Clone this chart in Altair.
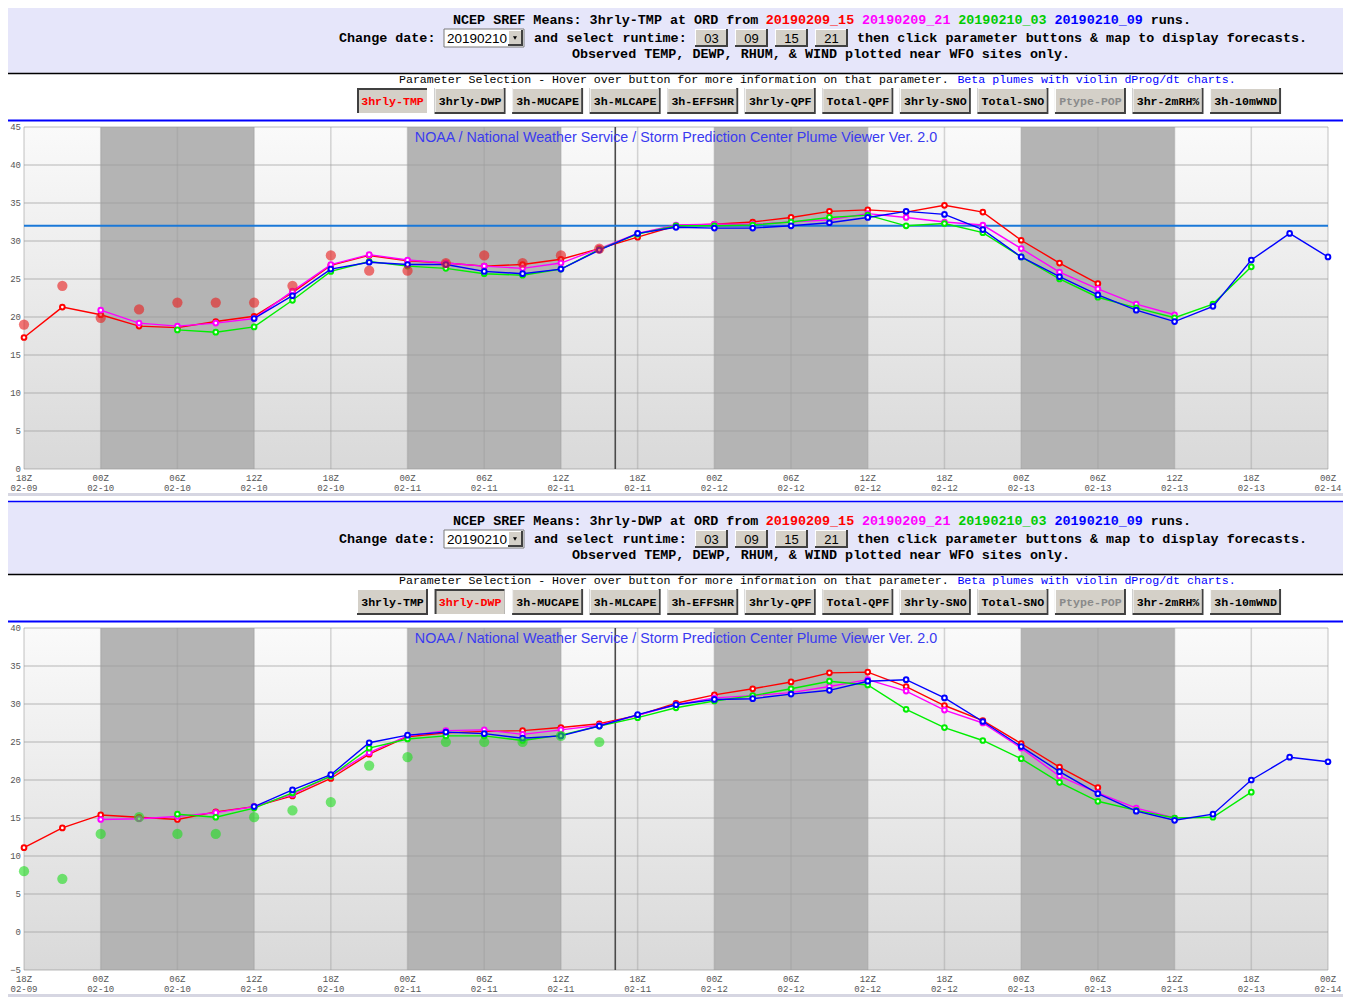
import altair as alt
import pandas as pd

# ------------------------------------------------------------------ data
RUNS = ["20190209_15", "20190209_21", "20190210_03", "20190210_09"]
RUN_COLORS = ["#ff0000", "#ff00ff", "#00ee00", "#0000ff"]
RUN_TEXT_COLORS = ["#ff0000", "#ff00ff", "#00cc00", "#0000ff"]
RUN_FIRST_HOUR = [0, 6, 12, 18]          # hours after 18Z 02-09
STEP_H = 3

TMP_RED = [17.3, 21.3, 20.3, 18.8, 18.6, 19.4, 20.1, 23.2, 26.8, 28.1, 27.4, 27.1, 26.7, 26.9, 27.6,
           29.0, 30.5, 32.0, 32.2, 32.5, 33.1, 33.9, 34.1, 33.8, 34.7, 33.8, 30.1, 27.1, 24.4]
TMP_MAG = [20.9, 19.2, 18.8, 19.2, 19.8, 23.4, 26.9, 28.2, 27.5, 27.1, 26.7, 26.4, 27.1, 29.0, 31.0,
           32.1, 32.2, 32.2, 32.5, 32.8, 33.6, 33.1, 32.5, 32.1, 29.0, 25.9, 23.7, 21.7, 20.3]
TMP_GRN = [18.3, 18.0, 18.7, 22.2, 26.0, 27.3, 26.7, 26.4, 25.7, 25.5, 26.3, 28.9, 30.9, 32.0, 32.0,
           32.1, 32.5, 33.1, 33.4, 32.0, 32.3, 31.1, 27.9, 25.0, 22.6, 21.2, 19.9, 21.7, 26.6]
TMP_BLU = [19.8, 22.8, 26.3, 27.2, 26.9, 26.9, 26.0, 25.7, 26.3, 28.8, 31.0, 31.8, 31.7, 31.7, 32.0,
           32.4, 33.1, 33.9, 33.5, 31.5, 27.9, 25.3, 22.9, 20.9, 19.4, 21.4, 27.5, 31.0, 27.9]
TMP_OBS = [19.0, 24.1, 19.9, 21.0, 21.9, 21.9, 21.9, 24.1, 28.1, 26.1, 26.1, 27.1, 28.1, 27.1, 28.1, 29.0]

DWP_RED = [11.1, 13.7, 15.4, 15.1, 14.8, 15.8, 16.5, 17.9, 20.2, 23.4, 25.7, 26.2, 26.4, 26.5, 26.9,
           27.4, 28.5, 30.1, 31.2, 32.0, 32.9, 34.1, 34.2, 32.3, 29.8, 27.8, 24.8, 21.7, 19.0]
DWP_MAG = [14.8, 14.9, 15.2, 15.7, 16.5, 18.1, 20.5, 23.6, 25.8, 26.5, 26.6, 26.0, 26.6, 27.2, 28.5,
           29.9, 30.8, 31.1, 31.5, 32.3, 33.2, 31.7, 29.2, 27.5, 24.2, 20.5, 18.3, 16.3, 15.0]
DWP_GRN = [15.5, 15.1, 16.3, 18.3, 20.5, 24.2, 25.4, 25.8, 25.8, 25.2, 25.9, 27.1, 28.2, 29.5, 30.4,
           31.1, 32.0, 33.0, 32.5, 29.3, 26.9, 25.2, 22.8, 19.7, 17.2, 16.0, 15.0, 15.1, 18.4]
DWP_BLU = [16.5, 18.7, 20.7, 24.9, 25.9, 26.3, 26.1, 25.5, 25.8, 27.1, 28.6, 29.9, 30.6, 30.7, 31.3,
           31.8, 33.0, 33.2, 30.8, 27.7, 24.4, 21.1, 18.2, 15.9, 14.7, 15.5, 20.0, 23.0, 22.4]
DWP_OBS = [8.0, 7.0, 12.9, 15.1, 12.9, 12.9, 15.1, 16.0, 17.1, 21.9, 23.0, 25.0, 25.0, 25.0, 25.8, 25.0]

TICK_HOURS = [0, 6, 12, 18, 24, 30, 36, 42, 48, 54, 60, 66, 72, 78, 84, 90, 96, 102]
TICK_TIME = ["18Z", "00Z", "06Z", "12Z", "18Z", "00Z", "06Z", "12Z", "18Z",
             "00Z", "06Z", "12Z", "18Z", "00Z", "06Z", "12Z", "18Z", "00Z"]
TICK_DATE = ["02-09", "02-10", "02-10", "02-10", "02-10", "02-11", "02-11", "02-11", "02-11",
             "02-12", "02-12", "02-12", "02-12", "02-13", "02-13", "02-13", "02-13", "02-14"]
NIGHT_START = [6, 30, 54, 78]
NIGHT_END = [18, 42, 66, 90]
NOW_HOUR = 46.25
FREEZING = [32]
TMP_YTICKS = [0, 5, 10, 15, 20, 25, 30, 35, 40, 45]
DWP_YTICKS = [-5, 0, 5, 10, 15, 20, 25, 30, 35, 40]

BUTTONS = ["3hrly-TMP", "3hrly-DWP", "3h-MUCAPE", "3h-MLCAPE", "3h-EFFSHR", "3hrly-QPF",
           "Total-QPF", "3hrly-SNO", "Total-SNO", "Ptype-POP", "3hr-2mRH%", "3h-10mWND"]
RUNTIMES = ["03", "09", "15", "21"]
SITE = "ORD"
DATE_SEL = "20190210"
TITLE = "NOAA / National Weather Service / Storm Prediction Center Plume Viewer Ver. 2.0"

# ------------------------------------------------------------------ helpers
OFF = 8            # page margin: page px -> chart px
W, H = 1335, 993
MONO = "Liberation Mono"
SANS = "Liberation Sans"
ONE = pd.DataFrame({"k": [0]})


def V(v):
    return alt.value(v - OFF)


def rect(x1, y1, x2, y2, **kw):
    return alt.Chart(ONE).mark_rect(**kw).encode(x=V(x1), x2=V(x2), y=V(y1), y2=V(y2))


def hrule(x1, x2, y, **kw):
    return alt.Chart(ONE).mark_rule(**kw).encode(x=V(x1), x2=V(x2), y=V(y))


def vrule(x, y1, y2, **kw):
    return alt.Chart(ONE).mark_rule(**kw).encode(x=V(x), y=V(y1), y2=V(y2))


def txt(x, y, s, **kw):
    kw.setdefault("baseline", "middle")
    kw.setdefault("align", "left")
    return alt.Chart(ONE).mark_text(text=s, **kw).encode(x=V(x), y=V(y))


def button(x0, y0, w, h, label, color, selected, font, size, weight):
    dark, light, face = "#404040", "#ffffff", "#d4d0c8"
    out = []
    if not selected:
        out.append(rect(x0, y0, x0 + w, y0 + h, color=dark))
        out.append(rect(x0, y0, x0 + w - 2, y0 + h - 2, color=light))
        out.append(rect(x0 + 1, y0 + 1, x0 + w - 2, y0 + h - 2, color=face))
    else:
        out.append(rect(x0, y0, x0 + w, y0 + h, color=light))
        out.append(rect(x0, y0, x0 + w - 1, y0 + h - 1, color=dark))
        out.append(rect(x0 + 2, y0 + 2, x0 + w - 1, y0 + h - 1, color=face))
    out.append(txt(x0 + w / 2, y0 + h / 2 + 0.5, label, align="center", font=font,
                   fontSize=size, fontWeight=weight, color=color))
    return out


def header(b, param):
    L = []
    L.append(rect(0, b + 1, 1351, b + 73, color="#e6e6fa"))
    L.append(hrule(0, 1351, b + 0.5, color="#0000ff", strokeWidth=1.5))
    L.append(hrule(0, 1351, b + 73.5, color="#000000", strokeWidth=1.5))
    # line 1
    cw = 8.02
    x = 453
    segs = [("NCEP SREF Means: %s at %s from " % (param, SITE), "#000000")]
    for r, c in zip(RUNS, RUN_TEXT_COLORS):
        segs.append((r, c))
        segs.append((" ", "#000000"))
    segs.append(("runs.", "#000000"))
    for s, c in segs:
        if s.strip():
            L.append(txt(x, b + 20, s, font=MONO, fontSize=13.4, fontWeight="bold", color=c))
        x += cw * len(s)
    # line 2
    L.append(txt(339, b + 38, "Change date:", font=MONO, fontSize=13.4, fontWeight="bold"))
    L.append(rect(444, b + 29, 524, b + 47, color="#ffffff", stroke="#7a7a7a", strokeWidth=1))
    L.append(txt(447, b + 38.5, DATE_SEL, font=SANS, fontSize=13.5, color="#000000"))
    L += button(508, b + 30, 15, 16, "", "#000", False, SANS, 10, "normal")
    L.append(alt.Chart(ONE).mark_point(shape="triangle-down", filled=True, color="#000000",
                                       size=16, opacity=1).encode(x=V(515), y=V(b + 38)))
    L.append(txt(534, b + 38, "and select runtime:", font=MONO, fontSize=13.4, fontWeight="bold"))
    for i, rt in enumerate(RUNTIMES):
        L += button(695 + 40 * i, b + 29, 33, 18, rt, "#000000", False, SANS, 13, "normal")
    L.append(txt(857, b + 38, "then click parameter buttons & map to display forecasts.",
                 font=MONO, fontSize=13.4, fontWeight="bold"))
    # line 3
    L.append(txt(821, b + 54, "Observed TEMP, DEWP, RHUM, & WIND plotted near WFO sites only.",
                 align="center", font=MONO, fontSize=13.4, fontWeight="bold"))
    # parameter selection line
    p1 = "Parameter Selection - Hover over button for more information on that parameter. "
    p2 = "Beta plumes with violin dProg/dt charts."
    L.append(txt(399, b + 80, p1, font=MONO, fontSize=11.6, color="#000000"))
    L.append(txt(399 + 6.98 * len(p1), b + 80, p2, font=MONO, fontSize=11.6, color="#0000ff"))
    for i, name in enumerate(BUTTONS):
        sel = name == param
        col = "#ff0000" if sel else ("#8a8a8a" if name == "Ptype-POP" else "#000000")
        L += button(357 + 77.55 * i, b + 88, 71, 26, name, col, sel, MONO, 11.6, "bold")
    # chart frame
    L.append(vrule(2.5, b + 73, b + 496, color="#000000", strokeWidth=1.5))
    L.append(hrule(2, 1351, b + 120.5, color="#0000ff", strokeWidth=2))
    L.append(rect(0, b + 493, 1351, b + 496, color="#d6d6e2"))
    return L


def panel(b, param, series, obs, obs_color, yticks, ydom, freeze):
    top, bot = 127 + b, 469 + b
    xs = alt.Scale(domain=[0, 102], range=[24 - OFF, 1328 - OFF], nice=False, zero=False)
    ys = alt.Scale(domain=ydom, range=[bot - OFF, top - OFF], nice=False, zero=False)

    def X(f):
        return alt.X(f, type="quantitative", scale=xs, axis=None)

    def Y(f):
        return alt.Y(f, type="quantitative", scale=ys, axis=None)

    L = header(b, param)
    grad = alt.Gradient(gradient="linear",
                        stops=[alt.GradientStop(color="#fafafa", offset=0),
                               alt.GradientStop(color="#d9d9d9", offset=1)],
                        x1=0, x2=0, y1=0, y2=1)
    L.append(rect(24, top, 1328, bot, fill=grad))
    nights = pd.DataFrame({"s": NIGHT_START, "e": NIGHT_END})
    L.append(alt.Chart(nights).mark_rect(color="#b4b4b4").encode(
        x=X("s"), x2=alt.X2("e"), y=V(top), y2=V(bot)))
    yt = pd.DataFrame({"v": yticks})
    L.append(alt.Chart(yt).mark_rule(color="#9a9a9a", opacity=0.35, strokeWidth=2).encode(
        y=Y("v"), x=V(24), x2=V(1328)))
    ticks = pd.DataFrame({"h": TICK_HOURS, "t": TICK_TIME, "d": TICK_DATE})
    L.append(alt.Chart(ticks).mark_rule(color="#9a9a9a", opacity=0.4, strokeWidth=1.5).encode(
        x=X("h"), y=V(top), y2=V(bot)))
    L.append(alt.Chart(pd.DataFrame({"h": [NOW_HOUR]})).mark_rule(
        color="#4a4a4a", strokeWidth=1.6).encode(x=X("h"), y=V(top), y2=V(bot)))
    if freeze:
        L.append(alt.Chart(pd.DataFrame({"v": FREEZING})).mark_rule(
            color="#1a78d8", strokeWidth=2).encode(y=Y("v"), x=V(24), x2=V(1328)))
    L.append(txt(676, top + 11, TITLE, align="center", font=SANS, fontSize=14.3, color="#3a3af0"))
    for run, col, h0, vals in zip(RUNS, RUN_COLORS, RUN_FIRST_HOUR, series):
        df = pd.DataFrame({"h": [h0 + STEP_H * i for i in range(len(vals))], "v": vals})
        L.append(alt.Chart(df).mark_line(color=col, strokeWidth=1.4).encode(x=X("h"), y=Y("v")))
        L.append(alt.Chart(df).mark_point(shape="circle", filled=True, fill="#ffffff", stroke=col,
                                          strokeWidth=2, size=22, opacity=1).encode(x=X("h"), y=Y("v")))
    od = pd.DataFrame({"h": [STEP_H * i for i in range(len(obs))], "v": obs})
    L.append(alt.Chart(od).mark_circle(color=obs_color, size=105, opacity=0.62).encode(
        x=X("h"), y=Y("v")))
    L.append(alt.Chart(yt).mark_text(font=MONO, fontSize=9, color="#555555", align="right",
                                     baseline="middle").encode(y=Y("v"), x=V(21), text="v:Q"))
    L.append(alt.Chart(ticks).mark_text(font=MONO, fontSize=9, color="#555555", align="center",
                                        baseline="middle").encode(x=X("h"), y=V(bot + 9), text="t:N"))
    L.append(alt.Chart(ticks).mark_text(font=MONO, fontSize=9, color="#555555", align="center",
                                        baseline="middle").encode(x=X("h"), y=V(bot + 19), text="d:N"))
    return alt.layer(*L)


top_panel = panel(0, "3hrly-TMP", [TMP_RED, TMP_MAG, TMP_GRN, TMP_BLU], TMP_OBS, "#e82020",
                  TMP_YTICKS, [0, 45], True)
bottom_panel = panel(501, "3hrly-DWP", [DWP_RED, DWP_MAG, DWP_GRN, DWP_BLU], DWP_OBS, "#22dd22",
                     DWP_YTICKS, [-5, 40], False)

chart = alt.layer(top_panel, bottom_panel).resolve_scale(
    x="independent", y="independent").properties(
    width=W, height=H, padding=0, autosize=alt.AutoSizeParams(type="none"),
    background="#ffffff").configure_view(strokeWidth=0)

chart.save("out.html", embed_options={"renderer": "svg", "actions": False})
